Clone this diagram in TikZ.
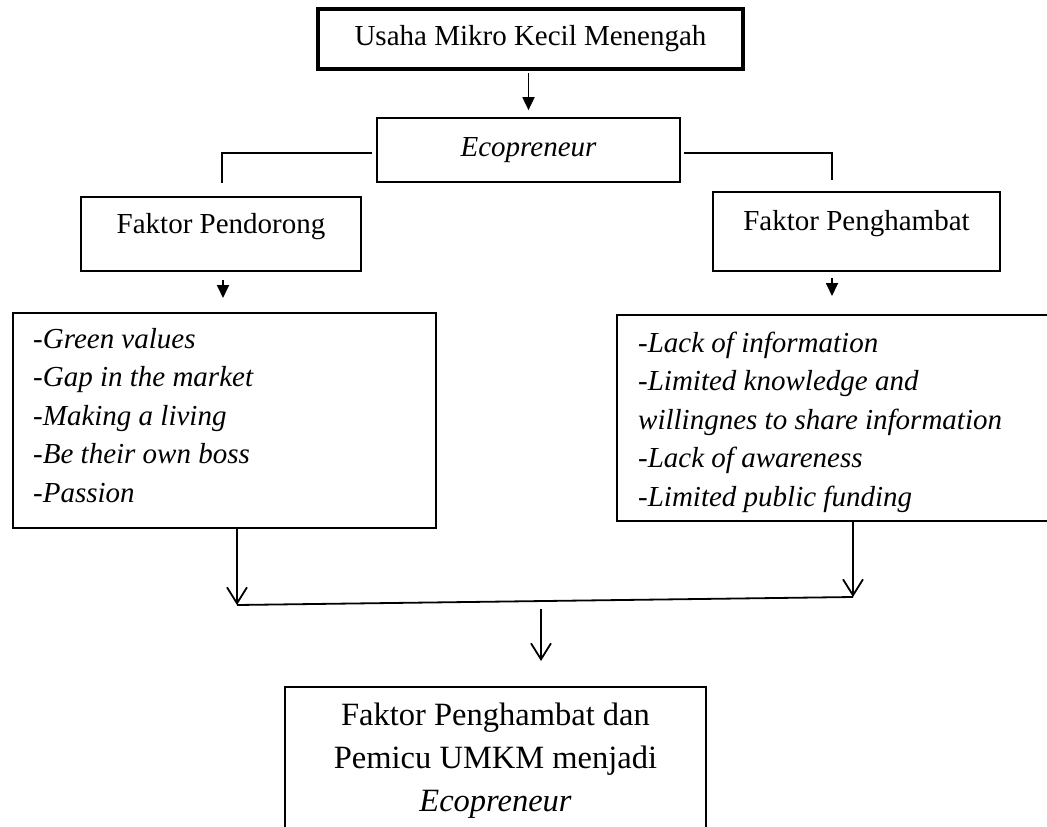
\documentclass[tikz,border=0pt]{standalone}
\usepackage{fontspec}
\setmainfont{Liberation Serif}
\usetikzlibrary{arrows.meta}
\begin{document}
\begin{tikzpicture}[x=1pt,y=-1pt,
  box/.style={draw, line width=1.7pt, inner sep=0pt, font=\fontsize{29}{30}\selectfont},
  ln/.style={line width=1.8pt},
  fill arrow/.style={ln, -{Triangle[width=12pt,length=13pt]}},
  open arrow/.style={ln, -{Straight Barb[width=20pt,length=16pt,line width=1.8pt]}},
  lbl/.style={inner sep=0pt, anchor=base, font=\fontsize{29}{30}\selectfont},
  item/.style={inner sep=0pt, anchor=base west, font=\fontsize{29}{30}\selectfont\itshape},
  big/.style={inner sep=0pt, anchor=base, font=\fontsize{32.5}{33}\selectfont}
]
\useasboundingbox (0,0) rectangle (1047,827);
\clip (0,0) rectangle (1047,827);

% top box
\node[box, line width=4.5pt, minimum width=425pt, minimum height=60pt] (umkm) at (530.5,39) {Usaha Mikro Kecil Menengah};
% ecopreneur
\node[box, minimum width=303pt, minimum height=64pt] (eco) at (528.5,150) {\itshape Ecopreneur};
\draw[fill arrow, shorten <=2pt, shorten >=7pt] (eco.north |- umkm.south) -- (eco.north);

% factor boxes
\node[box, minimum width=280pt, minimum height=74pt] (fp) at (221,234) {};
\node[lbl] (fpT) at (221,233) {Faktor Pendorong};
\node[box, minimum width=287pt, minimum height=79pt] (fh) at (856.5,231.5) {};
\node[lbl] (fhT) at (856.5,230) {Faktor Penghambat};

\coordinate (eL) at (372,153);
\coordinate (fpTop) at (222,183);
\coordinate (eR) at (684,153);
\coordinate (fhTop) at (832,180);
\draw[ln] (eL) -| (fpTop);
\draw[ln] (eR) -| (fhTop);

% small arrows
\coordinate (a1s) at (223,280);
\coordinate (a1e) at (223,298);
\coordinate (a2s) at (832,278);
\coordinate (a2e) at (832,296);
\draw[fill arrow] (a1s) -- (a1e);
\draw[fill arrow] (a2s) -- (a2e);

% list boxes
\node[box, minimum width=423pt, minimum height=215pt] (lb) at (224.5,420.5) {};
\node[item] (L1) at (33,348) {-Green values};
\node[item] (L2) at (33,386.5) {-Gap in the market};
\node[item] (L3) at (33,425) {-Making a living};
\node[item] (L4) at (33,463.5) {-Be their own boss};
\node[item] (L5) at (33,502) {-Passion};

\node[box, minimum width=443pt, minimum height=206pt] (rb) at (838.5,418) {};
\node[item] (R1) at (638,352) {-Lack of information};
\node[item] (R2) at (638,390.5) {-Limited knowledge and};
\node[item] (R3) at (638,429) {willingnes to share information};
\node[item] (R4) at (638,467.5) {-Lack of awareness};
\node[item] (R5) at (638,506) {-Limited public funding};

% joining arrows
\coordinate (jL) at (237,605);
\coordinate (jR) at (853,597);
\coordinate (jM) at (541,609);
\coordinate (tipM) at (541,661);
\draw[open arrow] (lb.south -| jL) -- (jL);
\draw[open arrow] (rb.south -| jR) -- (jR);
\draw[ln] (jL) -- (jR);
\draw[open arrow] (jM) -- (tipM);

% bottom box
\node[box, minimum width=421pt, minimum height=183pt] (bb) at (495.5,778.5) {};
\node[big] (B1) at (495.5,725) {Faktor Penghambat dan};
\node[big] (B2) at (495.5,768) {Pemicu UMKM menjadi};
\node[big, font=\fontsize{32.5}{33}\selectfont\itshape] (B3) at (495.5,811) {Ecopreneur};
\end{tikzpicture}
\end{document}
